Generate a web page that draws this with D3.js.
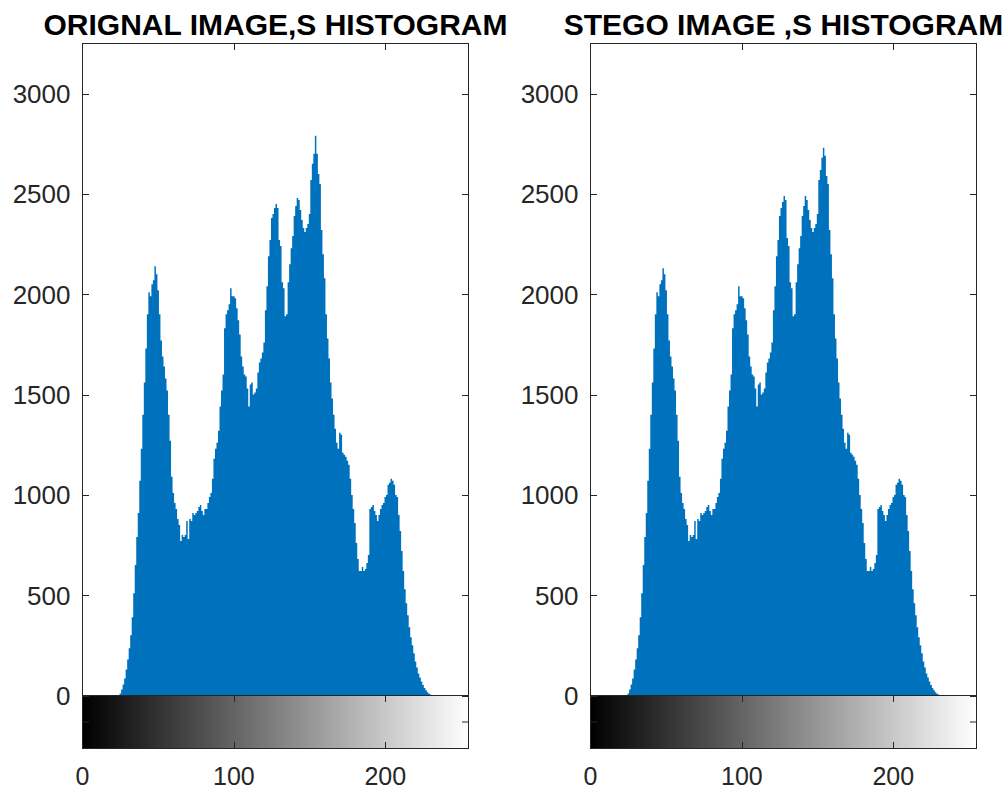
<!DOCTYPE html>
<html>
<head>
<meta charset="utf-8">
<script src="https://cdn.jsdelivr.net/npm/d3@7"></script>
<style>
  body { margin: 0; background: #fff; }
  text { font-family: "Liberation Sans", Arial, sans-serif; }
</style>
</head>
<body>
<div id="chart"></div>
<script>
// gray level bins 0..255
var binLabels = d3.range(256);

// pixel counts
var origCounts = [
  0,0,0,0,0,0,0,0,0,0,0,0,0,0,0,0,
  0,0,0,0,0,0,0,0,0,10,30,55,85,130,180,235,
  300,390,510,650,790,910,1070,1230,1400,1560,1730,1900,2010,1990,2050,2070,
  2140,2100,2020,1900,1770,1690,1640,1580,1520,1400,1270,1090,1010,960,930,880,
  850,770,800,790,800,870,780,880,870,910,900,910,920,940,950,920,
  900,930,930,960,990,1010,1080,1180,1230,1260,1320,1440,1520,1600,1830,1900,
  1920,1950,2030,1990,1990,1980,1930,1870,1800,1690,1640,1600,1590,1530,1440,1550,
  1560,1500,1510,1530,1610,1660,1680,1710,1760,1920,2040,2190,2270,2380,2400,2430,
  2450,2430,2270,2240,2060,2030,1890,1900,2060,2150,2230,2290,2390,2440,2480,2470,
  2420,2370,2330,2310,2330,2350,2400,2570,2650,2700,2790,2700,2600,2550,2320,2200,
  2080,1900,1780,1680,1560,1480,1400,1330,1260,1230,1310,1300,1210,1200,1190,1170,
  1150,1080,1000,930,860,760,680,620,620,640,620,630,660,700,930,940,
  950,920,900,870,900,930,950,960,990,1000,1050,1060,1080,1070,1050,1000,
  990,900,820,720,620,530,460,400,340,290,250,210,170,140,110,90,
  70,52,38,26,16,9,5,2,0,0,0,0,0,0,0,0,
  0,0,0,0,0,0,0,0,0,0,0,0,0,0,0,0
];

// pixel counts
var stegoCounts = [
  0,0,0,0,0,0,0,0,0,0,0,0,0,0,0,0,
  0,0,0,0,0,0,0,0,0,10,30,55,85,130,180,235,
  300,390,510,650,790,910,1070,1230,1400,1560,1730,1900,2010,1990,2050,2070,
  2130,2100,2020,1900,1770,1690,1640,1580,1520,1400,1270,1090,1010,960,930,880,
  850,770,800,790,800,870,780,880,870,910,900,910,920,940,950,920,
  900,930,930,960,990,1010,1080,1180,1230,1260,1320,1440,1520,1600,1830,1900,
  1920,1950,2040,1990,1990,1980,1930,1870,1800,1690,1640,1600,1590,1530,1440,1550,
  1560,1500,1510,1530,1610,1660,1680,1710,1760,1920,2040,2190,2270,2390,2430,2460,
  2490,2470,2280,2240,2060,2030,1890,1900,2060,2150,2230,2290,2390,2440,2490,2470,
  2420,2370,2330,2310,2330,2350,2400,2570,2620,2680,2730,2690,2590,2550,2320,2200,
  2080,1900,1780,1680,1560,1480,1400,1330,1260,1230,1310,1300,1210,1200,1190,1170,
  1150,1080,1000,930,860,760,680,620,620,640,620,630,660,700,930,940,
  950,920,900,870,900,930,950,960,990,1000,1050,1060,1080,1070,1050,1000,
  990,900,820,720,620,530,460,400,340,290,250,210,170,140,110,90,
  70,52,38,26,16,9,5,2,0,0,0,0,0,0,0,0,
  0,0,0,0,0,0,0,0,0,0,0,0,0,0,0,0
];

var titles = ["ORIGNAL IMAGE,S HISTOGRAM", "STEGO IMAGE ,S HISTOGRAM"];
var yTicks = [0, 500, 1000, 1500, 2000, 2500, 3000];
var xTicks = [0, 100, 200];

var svgWidth = 1008;
var svgHeight = 791;
var axisColor = "#262626";
var barColor = "#0072BD";
var tickLen = 6.5;

var svg = d3.select("#chart")
  .append("svg")
  .attr("width", svgWidth)
  .attr("height", svgHeight);

var defs = svg.append("defs");

// gray ramp for the colorbar
var grad = defs.append("linearGradient")
  .attr("id", "grayRamp")
  .attr("x1", "0%").attr("x2", "100%");
grad.append("stop").attr("offset", "0%").attr("stop-color", "#000");
grad.append("stop").attr("offset", "100%").attr("stop-color", "#fff");

var panels = [
  { id: "p0", left: 82.5, right: 468.5, counts: origCounts, title: titles[0] },
  { id: "p1", left: 590.5, right: 976.5, counts: stegoCounts, title: titles[1] }
];

var topY = 43.5, histBottom = 695.5, barBottom = 748.5;

panels.forEach(function(p) {
  var g = svg.append("g");

  var x = d3.scaleLinear().domain([0, 255]).range([p.left, p.right]);
  var y = d3.scaleLinear().domain([0, 3250]).range([histBottom, topY]);

  defs.append("clipPath").attr("id", "clip-" + p.id)
    .append("rect")
    .attr("x", p.left).attr("y", topY)
    .attr("width", p.right - p.left).attr("height", histBottom - topY);

  // histogram bars as one stepped area (no seams between bins)
  var stepPts = binLabels.map(function(b) { return [b - 0.5, p.counts[b]]; });
  stepPts.push([255.5, p.counts[255]]);
  var area = d3.area()
    .curve(d3.curveStepAfter)
    .x(function(d) { return x(d[0]); })
    .y0(histBottom)
    .y1(function(d) { return y(d[1]); });

  g.append("path")
    .datum(stepPts)
    .attr("d", area)
    .attr("fill", barColor)
    .attr("clip-path", "url(#clip-" + p.id + ")");

  // colorbar
  g.append("rect")
    .attr("x", p.left).attr("y", histBottom)
    .attr("width", p.right - p.left).attr("height", barBottom - histBottom)
    .attr("fill", "url(#grayRamp)");

  // boxes
  g.append("rect")
    .attr("x", p.left).attr("y", topY)
    .attr("width", p.right - p.left).attr("height", histBottom - topY)
    .attr("fill", "none").attr("stroke", axisColor).attr("stroke-width", 1);
  g.append("rect")
    .attr("x", p.left).attr("y", histBottom)
    .attr("width", p.right - p.left).attr("height", barBottom - histBottom)
    .attr("fill", "none").attr("stroke", axisColor).attr("stroke-width", 1);

  // y ticks (inside, both sides)
  var yt = g.append("g");
  yTicks.forEach(function(v) {
    var yy = Math.round(y(v)) + 0.5;
    yt.append("line").attr("x1", p.left).attr("x2", p.left + tickLen)
      .attr("y1", yy).attr("y2", yy).attr("stroke", axisColor);
    yt.append("line").attr("x1", p.right).attr("x2", p.right - tickLen)
      .attr("y1", yy).attr("y2", yy).attr("stroke", axisColor);
    yt.append("text")
      .attr("x", p.left - 12)
      .attr("y", y(v))
      .attr("dy", "0.36em")
      .attr("text-anchor", "end")
      .attr("font-size", 26)
      .attr("fill", axisColor)
      .text(v);
  });

  // colorbar mid tick
  var midY = (histBottom + barBottom) / 2;
  g.append("line").attr("x1", p.left).attr("x2", p.left + tickLen)
    .attr("y1", midY).attr("y2", midY).attr("stroke", axisColor);
  g.append("line").attr("x1", p.right).attr("x2", p.right - tickLen)
    .attr("y1", midY).attr("y2", midY).attr("stroke", axisColor);

  // x ticks: top of histogram, top and bottom of colorbar
  xTicks.forEach(function(v) {
    var xx = Math.round(x(v)) + 0.5;
    if (v > 0) {
      g.append("line").attr("x1", xx).attr("x2", xx)
        .attr("y1", topY).attr("y2", topY + tickLen).attr("stroke", axisColor);
      g.append("line").attr("x1", xx).attr("x2", xx)
        .attr("y1", histBottom).attr("y2", histBottom + tickLen).attr("stroke", axisColor);
      g.append("line").attr("x1", xx).attr("x2", xx)
        .attr("y1", barBottom).attr("y2", barBottom - tickLen).attr("stroke", axisColor);
    }
    g.append("text")
      .attr("x", x(v))
      .attr("y", 785)
      .attr("text-anchor", "middle")
      .attr("font-size", 25)
      .attr("fill", axisColor)
      .text(v);
  });

  // title
  g.append("text")
    .attr("x", (p.left + p.right) / 2)
    .attr("y", 35)
    .attr("text-anchor", "middle")
    .attr("font-size", 30)
    .attr("font-weight", "bold")
    .attr("fill", "#000")
    .text(p.title);
});
</script>
</body>
</html>
